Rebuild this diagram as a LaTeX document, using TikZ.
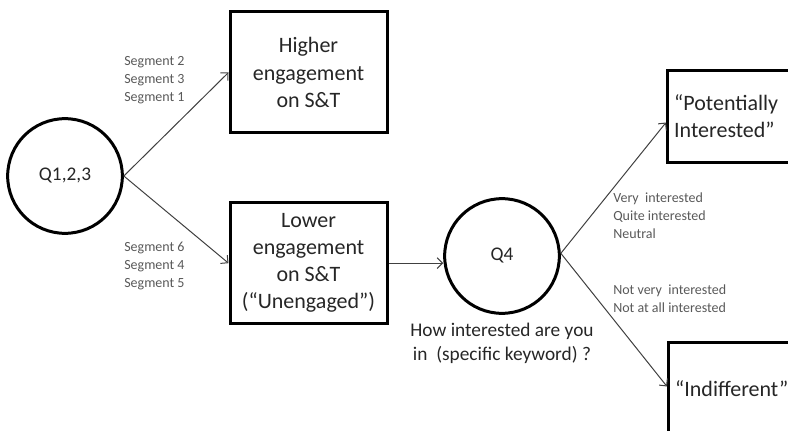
\documentclass[tikz,border=0pt]{standalone}
\usepackage{fontspec}
\setmainfont{Carlito}
\usetikzlibrary{positioning, arrows.meta}

\begin{document}
\begin{tikzpicture}[x=0.75pt, y=-0.75pt,
            question/.style={draw=black, line width=2.25pt, circle, minimum size=86pt, inner sep=0pt, text=black!85, font=\fontsize{14.5}{17.5}\selectfont},
            group/.style={draw=black, line width=2.25pt, rectangle, minimum width=117.75pt, minimum height=90.75pt, align=center, text=black!85, font=\fontsize{16.5}{20.3}\selectfont},
            result/.style={draw=black, line width=2.25pt, rectangle, text width=107pt, inner xsep=5pt, minimum height=69pt, align=left, anchor=north west, text=black!85, font=\fontsize{16.5}{20.3}\selectfont},
            edge/.style={draw=black!75, line width=0.75pt, -{Straight Barb[length=4pt, width=8pt]}},
            answer/.style={align=left, anchor=west, inner sep=0pt, text=black!65, font=\fontsize{10.5}{13.6}\selectfont},
            caption/.style={align=center, inner sep=0pt, text=black!85, font=\fontsize{14.5}{18}\selectfont}
        ]
        \useasboundingbox (0,0) rectangle (788,431);
        \clip (0,0) rectangle (788,431);

        % Knoten
        \node[question] (q1) at (65,176) {Q1,2,3};
        \node[group] (hi) at (308.5,72.5) {Higher\\engagement\\on S\&T};
        \node[group, below=50pt of hi] (lo) {Lower\\engagement\\on S\&T\\(“Unengaged”)};
        \node[question] (q4) at (502,256) {Q4};
        \node[caption, below=6pt of q4] (ask) {How interested are you\\in\ \ (specific keyword) ?};
        \node[result] (pot) at (666,69) {“Potentially\\Interested”};
        \node[result] (ind) at (667,341) {“Indifferent”};

        \node[answer] (seghi) at (124,80) {Segment 2\\Segment 3\\Segment 1};
        \node[answer] (seglo) at (124,266) {Segment 6\\Segment 4\\Segment 5};
        \node[answer] (yes) at (613,216) {Very\ \ interested\\Quite interested\\Neutral};
        \node[answer] (no) at (613,299) {Not very\ \ interested\\Not at all interested};

        % Kanten zwischen Knoten
        \draw[edge] (q1.east) -- (hi.west);
        \draw[edge] (q1.east) -- (lo.west);
        \draw[edge] (lo.east) -- (lo.east -| q4.west);
        \draw[edge] ([yshift=2pt]q4.east) -- ([yshift=-4.5pt]pot.west);
        \draw[edge] ([yshift=2pt]q4.east) -- ([yshift=1.5pt]ind.west);

    \end{tikzpicture}
\end{document}
